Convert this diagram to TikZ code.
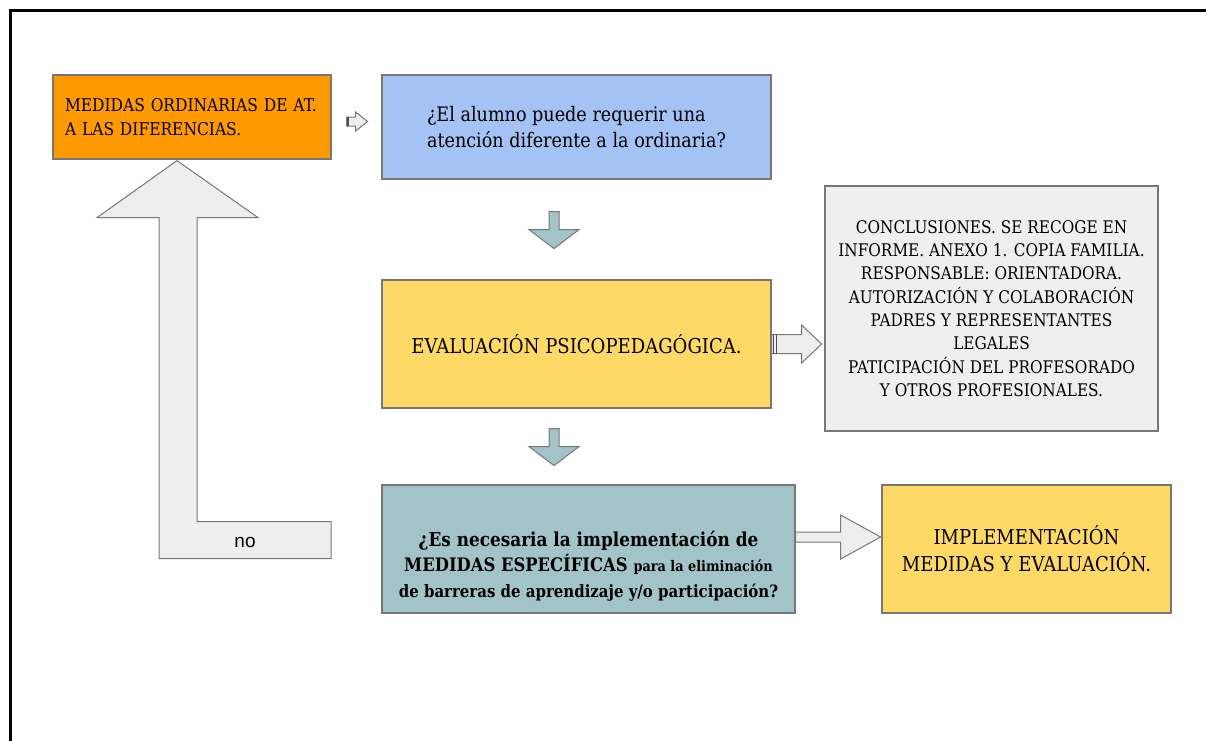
\documentclass[tikz,border=0pt]{standalone}
\usepackage{fontspec}
\setmainfont{DejaVu Serif}[FakeStretch=0.88]
\newfontfamily\arialfont{Liberation Sans}
\usetikzlibrary{calc}

\definecolor{ordorange}{HTML}{FF9900}
\definecolor{questblue}{HTML}{A4C2F4}
\definecolor{evalyellow}{HTML}{FFD966}
\definecolor{notegray}{HTML}{EFEFEF}
\definecolor{needteal}{HTML}{A2C4C9}
\definecolor{arrowgray}{HTML}{EEEEEE}
\definecolor{boxline}{HTML}{777777}

\tikzset{
  box/.style = {shape=rectangle, draw=boxline, line width=1.2pt,
    inner sep=0pt, align=center},
  blockarrow/.style = {draw=boxline, line width=1pt, fill=arrowgray,
    line join=miter},
}

\begin{document}
\begin{tikzpicture}[x=1pt, y=-1pt]
  \useasboundingbox (0,0) rectangle (1206,740);
  % page frame
  \draw[line width=3pt] (1215,10) -- (10,10) -- (10,750);

  \node[box, fill=ordorange, minimum width=278, minimum height=84,
    text width=254, align=left, font=\fontsize{17.6}{24}\selectfont]
    (ord) at (192,117) {MEDIDAS ORDINARIAS DE AT.\\A LAS DIFERENCIAS.};
  \node[box, fill=questblue, minimum width=389, minimum height=104,
    align=left, font=\fontsize{20}{26}\selectfont]
    (quest) at (576.5,127) {¿El alumno puede requerir una\\atención diferente a la ordinaria?};
  \node[box, fill=evalyellow, minimum width=389, minimum height=128,
    font=\fontsize{20.5}{26}\selectfont]
    (evalp) at (576.5,344) {EVALUACIÓN PSICOPEDAGÓGICA.};
  \node[box, fill=notegray, minimum width=333, minimum height=245,
    font=\fontsize{17.4}{23.3}\selectfont]
    (concl) at (991.5,308.5) {CONCLUSIONES. SE RECOGE EN\\INFORME. ANEXO 1. COPIA FAMILIA.\\
    RESPONSABLE: ORIENTADORA.\\AUTORIZACIÓN Y COLABORACIÓN\\PADRES Y REPRESENTANTES\\
    LEGALES\\PATICIPACIÓN DEL PROFESORADO\\Y OTROS PROFESIONALES.};
  \node[box, fill=needteal, minimum width=413, minimum height=128] (need) at (588.5,549) {};
  \node[align=center, inner sep=0pt, font=\bfseries\fontsize{19.2}{25.5}\selectfont]
    (needtxt) at ($(need.center)+(0,17)$) {¿Es necesaria la implementación de\\
    {\fontsize{18.6}{25.5}\selectfont MEDIDAS ESPECÍFICAS} {\fontsize{14.6}{25.5}\selectfont para la eliminación}\\
    {\fontsize{17}{25.5}\selectfont de barreras de aprendizaje y/o participación?}};
  \node[box, fill=evalyellow, minimum width=289, minimum height=128,
    font=\fontsize{20.5}{27}\selectfont]
    (impl) at (1026.5,549) {IMPLEMENTACIÓN\\MEDIDAS Y EVALUACIÓN.};

  % arrows
  \draw[blockarrow] ($(ord.east)+(15,0)$) -- ++(9,0) -- ++(0,-5) -- ++(12,9.5)
    -- ++(-12,9.5) -- ++(0,-5) -- ++(-9,0) -- cycle;
  \draw[line width=2pt, black!70] ($(ord.east)+(16,0)$) -- ++(0,9);
  \draw[blockarrow, fill=needteal] ($(quest.south)+(-27.5,32)$) -- ++(10,0) -- ++(0,18)
    -- ++(20,0) -- ++(-25,19) -- ++(-25,-19) -- ++(20,0) -- cycle;
  \draw[blockarrow] ($(evalp.east)+(0,-9.5)$) -- ++(30,0) -- ++(0,-9.5) -- ++(20,19)
    -- ++(-20,19) -- ++(0,-9.5) -- ++(-30,0) -- cycle;
  \draw[line width=1pt, black!70] ($(evalp.east)+(2,-9.5)$) -- ++(0,19)
    ($(evalp.east)+(5,-9.5)$) -- ++(0,19);
  \draw[blockarrow, fill=needteal] ($(evalp.south)+(-27.5,20)$) -- ++(10,0) -- ++(0,18)
    -- ++(20,0) -- ++(-25,19) -- ++(-25,-19) -- ++(20,0) -- cycle;
  \draw[blockarrow] ($(need.east)+(0,-17)$) -- ++(45,0) -- ++(0,-17) -- ++(40,22)
    -- ++(-40,22) -- ++(0,-17) -- ++(-45,0) -- cycle;
  % back to the ordinary measures
  \draw[blockarrow] ($(ord.south)+(-15,1)$) -- ++(81,57) -- ++(-61,0) -- ++(0,304)
    -- ++(134,0) -- ++(0,37) -- ++(-172,0) -- ++(0,-341) -- ++(-62,0) -- cycle;
  \node[font=\arialfont\fontsize{19}{20}\selectfont] (no) at (245,542) {no};
\end{tikzpicture}
\end{document}
